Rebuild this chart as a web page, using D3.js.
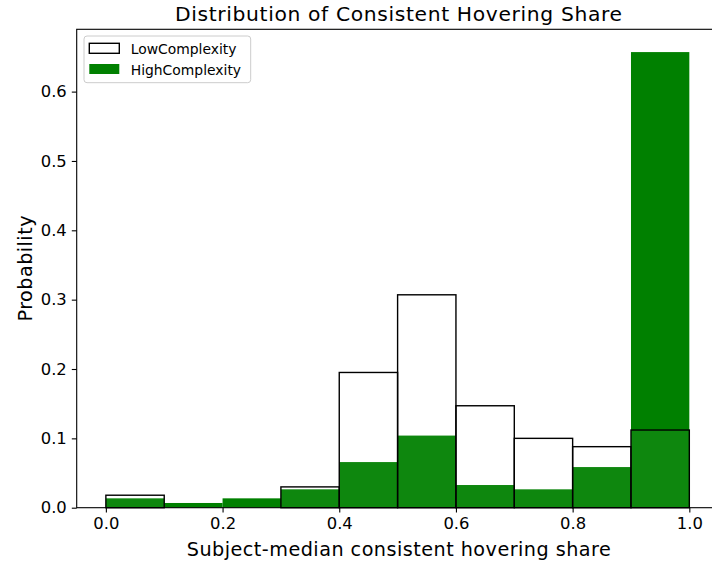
<!DOCTYPE html>
<html>
<head>
<meta charset="utf-8">
<script src="https://cdn.jsdelivr.net/npm/d3@7"></script>
<style>
  html, body { margin: 0; padding: 0; background: #fff; }
  svg { display: block; font-family: "DejaVu Sans", sans-serif; }
</style>
</head>
<body>
<svg id="chart" width="712" height="565"></svg>
<script>
// Histogram bins (edges) and per-bin probabilities for each group
const binEdges = [0.0, 0.1, 0.2, 0.3, 0.4, 0.5, 0.6, 0.7, 0.8, 0.9, 1.0];
const lowValues  = [0.018, 0.0, 0.0, 0.030, 0.195, 0.307, 0.147, 0.100, 0.088, 0.112];
const highValues = [0.0135, 0.0068, 0.0135, 0.0265, 0.0658, 0.104, 0.0327, 0.0265, 0.0586, 0.657];
const xTicks = [0.0, 0.2, 0.4, 0.6, 0.8, 1.0];
const yTicks = [0.0, 0.1, 0.2, 0.3, 0.4, 0.5, 0.6];
const seriesNames = ["LowComplexity", "HighComplexity"];

const svg = d3.select("#chart");
const plot = { left: 76.7, right: 718.5, top: 29.3, bottom: 507.7 };

const yMax = d3.max(highValues.concat(lowValues)) * 1.05;
const x = d3.scaleLinear().domain([-0.05, 1.05]).range([plot.left, plot.right]);
const y = d3.scaleLinear().domain([0, yMax]).range([plot.bottom, plot.top]);

const bins = (vals) => vals.map((v, i) => ({ x0: binEdges[i], x1: binEdges[i + 1], v }));

// HighComplexity bars (solid green)
svg.append("g").selectAll("rect").data(bins(highValues)).join("rect")
  .attr("x", d => x(d.x0))
  .attr("width", d => x(d.x1) - x(d.x0))
  .attr("y", d => y(d.v))
  .attr("height", d => y(0) - y(d.v))
  .attr("fill", "#008000");

// LowComplexity bars (outlined, faint white fill)
svg.append("g").selectAll("rect").data(bins(lowValues).filter(d => d.v > 0)).join("rect")
  .attr("x", d => x(d.x0))
  .attr("width", d => x(d.x1) - x(d.x0))
  .attr("y", d => y(d.v))
  .attr("height", d => y(0) - y(d.v))
  .attr("fill", "#ffffff")
  .attr("fill-opacity", 0.055)
  .attr("stroke", "#000")
  .attr("stroke-width", 1.4);

// Axes
const xAxis = d3.axisBottom(x).tickValues(xTicks).tickFormat(d3.format(".1f")).tickSize(4.9).tickPadding(5);
const yAxis = d3.axisLeft(y).tickValues(yTicks).tickFormat(d3.format(".1f")).tickSize(4.9).tickPadding(5);

const gx = svg.append("g").attr("transform", `translate(0,${plot.bottom})`).call(xAxis);
const gy = svg.append("g").attr("transform", `translate(${plot.left},0)`).call(yAxis);
[gx, gy].forEach(g => {
  g.select(".domain").remove();
  g.selectAll(".tick line").attr("stroke", "#000").attr("stroke-width", 1.1);
  g.selectAll(".tick text").attr("fill", "#000").style("font-size", "16.4px")
    .style("font-family", "DejaVu Sans");
});

// Frame
svg.append("rect")
  .attr("x", plot.left).attr("y", plot.top)
  .attr("width", plot.right - plot.left).attr("height", plot.bottom - plot.top)
  .attr("fill", "none").attr("stroke", "#000").attr("stroke-width", 1.1);

// Title and axis labels
svg.append("text").attr("x", 398.5).attr("y", 21)
  .attr("text-anchor", "middle").style("font-size", "20.3px")
  .attr("textLength", 447).attr("lengthAdjust", "spacing")
  .text("Distribution of Consistent Hovering Share");
svg.append("text").attr("x", 398.8).attr("y", 556)
  .attr("text-anchor", "middle").style("font-size", "19.2px")
  .attr("textLength", 424).attr("lengthAdjust", "spacing")
  .text("Subject-median consistent hovering share");
svg.append("text")
  .attr("transform", `translate(32,268.5) rotate(-90)`)
  .attr("text-anchor", "middle").style("font-size", "19.2px")
  .attr("textLength", 106).attr("lengthAdjust", "spacing")
  .text("Probability");

// Legend
const legend = svg.append("g");
legend.append("rect").attr("x", 84).attr("y", 36).attr("width", 166.7).attr("height", 46.7)
  .attr("rx", 3).attr("fill", "#fff").attr("fill-opacity", 0.8)
  .attr("stroke", "#ccc").attr("stroke-width", 1);
const legendStyles = [
  { fill: "#fff", stroke: "#000" },
  { fill: "#008000", stroke: "none" }
];
seriesNames.forEach((name, i) => {
  const yy = 43.3 + i * 20.7;
  legend.append("rect").attr("x", 89.3).attr("y", yy).attr("width", 30).attr("height", 10)
    .attr("fill", legendStyles[i].fill).attr("stroke", legendStyles[i].stroke).attr("stroke-width", 1.4);
  legend.append("text").attr("x", 130.7).attr("y", yy + 10.5)
    .style("font-size", "13.9px").text(name);
});
</script>
</body>
</html>
